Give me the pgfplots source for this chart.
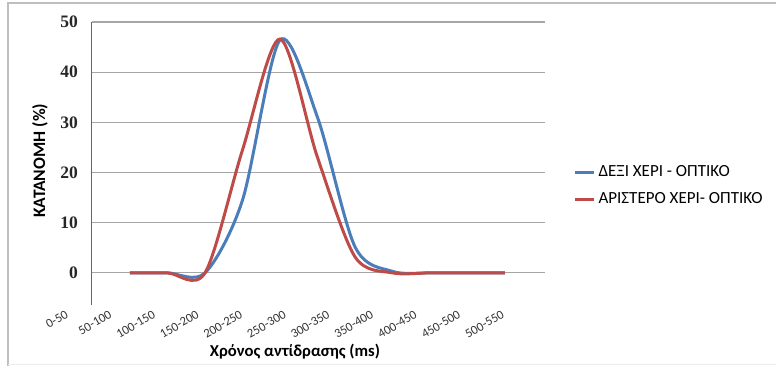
\documentclass[border=0pt]{standalone}
\usepackage{pgfplots}
\pgfplotsset{compat=1.18}
\usepackage{fontspec}
\setmainfont{Carlito}
\newfontfamily\serifb{Liberation Serif}
\definecolor{xlblue}{HTML}{4A7EBB}
\definecolor{xlred}{HTML}{BE4B48}
\definecolor{gridc}{HTML}{A6A6A6}
\begin{document}
\begin{tikzpicture}[x=0.6pt,y=0.6pt]
\path[use as bounding box] (0,0) rectangle (776,366);
\draw[gray!50, line width=0.8pt] (8,0) -- (8,363) -- (776,363);
\draw[gray!15, line width=0.6pt] (8,1) -- (776,1);
\begin{axis}[
  at={(55.2pt,36.6pt)}, anchor=south west,
  scale only axis, width=271.8pt, height=169.8pt,
  xmin=92, xmax=545, ymin=-6.4, ymax=50,
  axis lines*=left,
  x axis line style={draw=none},
  y axis line style={draw=gray!80!black, line width=0.6pt},
  ytick={0,10,20,30,40,50},
  ymajorgrids, grid style={gridc, line width=0.7pt},
  xtick={92,135.6,179.2,222.8,266.4,310,353.6,397.2,440.8,484.4,528},
  xticklabels={0-50,50-100,100-150,150-200,200-250,250-300,300-350,350-400,400-450,450-500,500-550},
  xticklabel style={rotate=30, anchor=east, xshift=-15pt, yshift=3pt, inner sep=0.5pt, font=\fontsize{7.6}{8}\selectfont, text=black!80},
  major tick length=0pt,
  yticklabel style={font=\serifb\bfseries\fontsize{10.5}{12}\selectfont, text=black!85, xshift=-5pt},
  /pgf/number format/assume math mode=true,
  every axis y label/.style={at={(axis description cs:-0.115,0.51)}, rotate=90, anchor=center, font=\bfseries\fontsize{10.5}{12}\selectfont},
  every axis x label/.style={at={(axis description cs:0.448,-0.166)}, anchor=center, font=\bfseries\fontsize{10}{12}\selectfont},
  ylabel={ΚΑΤΑΝΟΜΗ (\%)},
  xlabel={Χρόνος αντίδρασης (ms)},
  legend style={at={(axis description cs:1.063,0.422)}, anchor=west, draw=none, fill=none, font=\fontsize{10.2}{11}\selectfont, row sep=4pt, inner sep=0pt},
  legend cell align=left,
  every axis legend/.append style={/tikz/every even column/.append style={column sep=1pt}},
  legend image code/.code={\draw[#1] (0pt,0pt) -- (11pt,0pt);},
  clip=false,
]
\addplot[xlblue, line width=1.8pt, smooth, tension=0.5] coordinates {
(130,0) (167.5,0) (205,0) (242.5,14.5) (280,46.4) (317.5,31) (355,5.2) (392.5,0.3) (430,0) (467.5,0) (505,0)};
\addlegendentry{ΔΕΞΙ ΧΕΡΙ - ΟΠΤΙΚΟ}
\addplot[xlred, line width=1.8pt, smooth, tension=0.5] coordinates {
(130,0) (167.5,0) (205,0) (242.5,24.5) (280,46.6) (317.5,23) (355,3.2) (392.5,0) (430,0) (467.5,0) (505,0)};
\addlegendentry{ΑΡΙΣΤΕΡΟ ΧΕΡΙ- ΟΠΤΙΚΟ}
\end{axis}
\end{tikzpicture}
\end{document}
